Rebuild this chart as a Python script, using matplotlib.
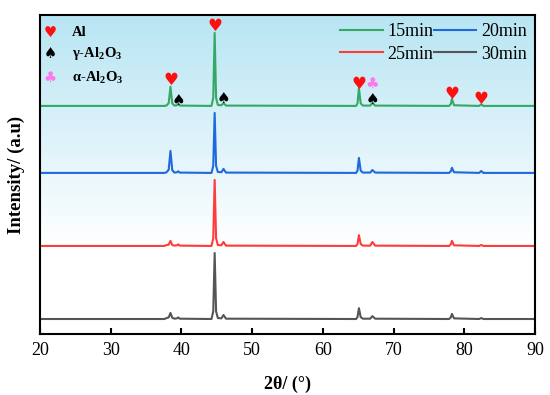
import numpy as np
import matplotlib
matplotlib.use("Agg")
import matplotlib.pyplot as plt
from matplotlib.colors import LinearSegmentedColormap

# ---- data ----
two_theta = [20, 37.6, 37.9, 38.2, 38.45, 38.7, 39.0, 39.35, 39.55, 39.75, 44.25, 44.5, 44.7, 44.9,
             45.15, 45.65, 45.95, 46.3, 64.7, 64.9, 65.1, 65.35, 65.65, 66.7, 67.0, 67.4,
             77.85, 78.1, 78.25, 78.55, 82.1, 82.4, 82.7, 90]
int_15 = [0, 0, 0.15, 0.9, 6.0, 0.8, 0.1, 0.2, 0.6, 0.1, 0, 2.5, 22.9, 2.5,
          0.3, 0.2, 0.9, 0.1, 0, 0.8, 5.6, 0.8, 0.1, 0.1, 0.9, 0.1,
          0, 0.6, 2.2, 0.2, 0, 0.5, 0, 0]
int_20 = [0, 0, 0.2, 1.0, 6.9, 0.9, 0.1, 0.2, 0.5, 0.1, 0, 2.2, 18.8, 2.2,
          0.3, 0.2, 1.25, 0.1, 0, 0.7, 4.7, 0.7, 0.1, 0.1, 0.9, 0.1,
          0, 0.5, 1.6, 0.2, 0, 0.6, 0, 0]
int_25 = [0, 0, 0.3, 0.4, 1.6, 0.3, 0.1, 0.2, 0.5, 0.1, 0, 2.4, 20.7, 2.4,
          0.3, 0.2, 1.25, 0.1, 0, 0.6, 3.4, 0.6, 0.1, 0.1, 1.25, 0.1,
          0, 0.5, 1.6, 0.2, 0, 0.3, 0, 0]
int_30 = [0, 0, 0.3, 0.5, 1.9, 0.4, 0.1, 0.2, 0.5, 0.1, 0, 2.4, 20.7, 2.4,
          0.3, 0.2, 1.25, 0.1, 0, 0.6, 3.4, 0.6, 0.1, 0.1, 0.9, 0.1,
          0, 0.5, 1.6, 0.2, 0, 0.3, 0, 0]
series_labels = ["15min", "20min", "25min", "30min"]
offsets = [71.5, 50.5, 27.6, 4.7]

# phase markers (2θ, y)
al_pos = [(38.45, 79.5), (44.7, 96.5), (65.1, 78.5), (78.2, 75.3), (82.4, 73.8)]
gamma_pos = [(39.6, 73.3), (45.9, 73.8), (67.0, 73.6)]
alpha_pos = [(67.0, 78.6)]
phase_labels = ["Al", "γ-Al$_\\mathbf{2}$O$_\\mathbf{3}$", "α-Al$_\\mathbf{2}$O$_\\mathbf{3}$"]

colors = ["#35a865", "#1f68dd", "#ff3b3b", "#555555"]

plt.rcParams['font.family'] = ['Liberation Serif', 'DejaVu Serif']
plt.rcParams['mathtext.fontset'] = 'custom'
plt.rcParams['mathtext.rm'] = 'Liberation Serif'
plt.rcParams['mathtext.bf'] = 'Liberation Serif:bold'

fig = plt.figure(figsize=(5.5, 3.95), dpi=100)
ax = fig.add_axes([40/550, 1-334/395, 495/550, 319/395])
ax.set_xlim(20, 90)
ax.set_ylim(0, 100)

# gradient background
cmap = LinearSegmentedColormap.from_list("bg", [(0, "#ffffff"), (0.28, "#ffffff"), (0.55, "#e4f5fb"), (1.0, "#b8e5f3")])
grad = np.linspace(0, 1, 256).reshape(-1, 1)
ax.imshow(grad, aspect='auto', cmap=cmap, extent=[20, 90, 0, 100], origin='lower', zorder=0)

lines = []
for ys, lab, c, off in zip([int_15, int_20, int_25, int_30], series_labels, colors, offsets):
    ln, = ax.plot(two_theta, np.array(ys) + off, color=c, lw=1.5, label=lab, zorder=2)
    lines.append(ln)

sym_kw = dict(ha='center', va='center', family='DejaVu Sans', zorder=3)
for x, y in al_pos:
    ax.text(x, y, "♥", color='#ff1010', fontsize=12, **sym_kw)
for x, y in gamma_pos:
    ax.text(x, y, "♠", color='black', fontsize=11, **sym_kw)
for x, y in alpha_pos:
    ax.text(x, y, "♣", color='#ff77ee', fontsize=11, **sym_kw)

# phase key
key_syms = [("♥", '#ff1010'), ("♠", 'black'), ("♣", '#ff77ee')]
key_y = [94.5, 88.0, 80.5]
for (s, c), lab, yk in zip(key_syms, phase_labels, key_y):
    ax.text(21.45, yk, s, color=c, fontsize=10.5, **sym_kw)
    ax.text(24.5, yk, lab, color='black', fontsize=10.5, fontweight='bold', ha='left', va='center', zorder=3)

order = [0, 2, 1, 3]
leg = ax.legend([lines[i] for i in order], [series_labels[i] for i in order],
                loc='upper right', ncol=2, frameon=False, fontsize=13, handlelength=2.35,
                handletextpad=0.28, columnspacing=0.0, borderaxespad=0.25, labelspacing=0.3,
                borderpad=0.2)

for s in ax.spines.values():
    s.set_linewidth(1.5)
ax.tick_params(axis='x', direction='in', length=4, width=1.5, labelsize=13, pad=6, top=False)
ax.set_xticks([20, 30, 40, 50, 60, 70, 80, 90])
ax.set_yticks([])
ax.set_xlabel("2θ/ (°)", fontsize=13, fontweight='bold', labelpad=12)
ax.set_ylabel("Intensity/ (a.u)", fontsize=13.5, fontweight='bold', labelpad=11)

fig.savefig("out.png", dpi=100)
